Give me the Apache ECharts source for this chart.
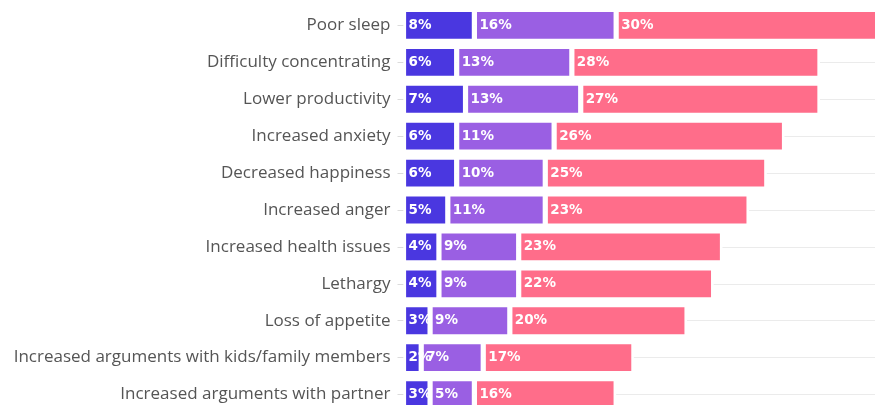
<!DOCTYPE html>
<html>
<head>
<meta charset="utf-8">
<script src="https://cdn.jsdelivr.net/npm/echarts@6/dist/echarts.min.js"></script>
<style>
  html, body { margin: 0; padding: 0; background: #fff; }
  #chart { width: 875px; height: 405px; }
</style>
</head>
<body>
<div id="chart"></div>
<script>
// Effects reported, share of respondents by severity band
const categories = [
  'Poor sleep',
  'Difficulty concentrating',
  'Lower productivity',
  'Increased anxiety',
  'Decreased happiness',
  'Increased anger',
  'Increased health issues',
  'Lethargy',
  'Loss of appetite',
  'Increased arguments with kids/family members',
  'Increased arguments with partner'
];
const seriesA = [8, 6, 7, 6, 6, 5, 4, 4, 3, 2, 3];
const seriesB = [16, 13, 13, 11, 10, 11, 9, 9, 9, 7, 5];
const seriesC = [30, 28, 27, 26, 25, 23, 23, 22, 20, 17, 16];
const colors = ['#4a37e0', '#9a5fe3', '#ff6d8a'];

const chart = echarts.init(document.getElementById('chart'), null, { renderer: 'canvas' });

function barSeries(name, data, color) {
  return {
    name: name,
    type: 'bar',
    stack: 'total',
    data: data,
    barWidth: 32,
    clip: true,
    itemStyle: { color: color, borderColor: '#ffffff', borderWidth: 2.6 },
    label: {
      show: true,
      position: 'insideLeft',
      distance: 5,
      formatter: '{c}%',
      color: '#ffffff',
      fontFamily: 'DejaVu Sans',
      fontWeight: 'bold',
      fontSize: 13.5
    },
    emphasis: { disabled: true }
  };
}

chart.setOption({
  animation: false,
  backgroundColor: '#ffffff',
  // the plot runs past the right and bottom edges and is cut off there
  grid: {
    left: 403.5, top: 7, width: 490, height: 406,
    containLabel: false,
    outerBoundsMode: 'none'
  },
  xAxis: {
    type: 'value',
    min: 0,
    max: 55.3,
    show: false
  },
  yAxis: {
    type: 'category',
    data: categories,
    inverse: true,
    axisLine: { show: false },
    axisTick: { show: true, length: 6, alignWithLabel: true, lineStyle: { color: '#dcdcdc' } },
    splitLine: { show: true, alignWithLabel: true, lineStyle: { color: '#ebebeb', width: 1 } },
    axisLabel: {
      margin: 13,
      color: '#555555',
      fontFamily: 'Open Sans',
      fontSize: 17
    }
  },
  series: [
    barSeries('A', seriesA, colors[0]),
    barSeries('B', seriesB, colors[1]),
    barSeries('C', seriesC, colors[2])
  ]
});
</script>
</body>
</html>
